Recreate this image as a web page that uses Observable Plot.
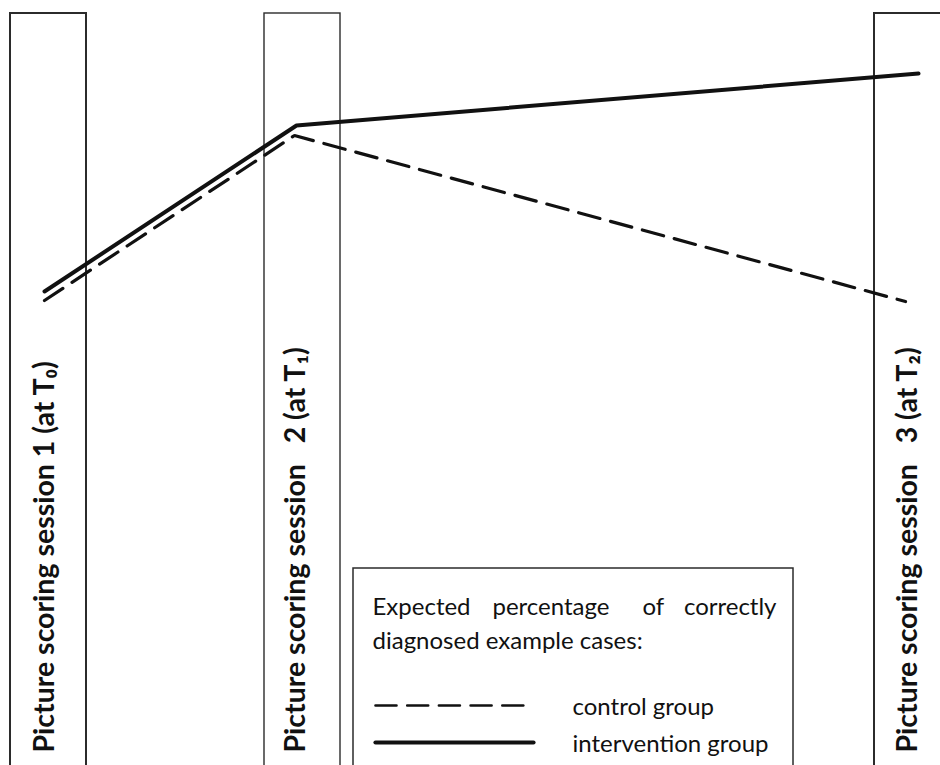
<!DOCTYPE html>
<html>
<head>
<meta charset="utf-8">
<script src="https://cdn.jsdelivr.net/npm/d3@7"></script>
<script src="https://cdn.jsdelivr.net/npm/@observablehq/plot@0.6"></script>
<style>
  html, body { margin: 0; padding: 0; background: #fff; overflow: hidden; }
  #chart svg { display: block; }
</style>
</head>
<body>
<div id="chart"></div>
<script>
// ---- Data (schematic; units are the drawing's own coordinate frame) ----
const sessionLabels = [
  "Picture scoring session 1 (at T\u2080)",
  "Picture scoring session\u00a0\u00a0\u00a02 (at T\u2081)",
  "Picture scoring session\u00a0\u00a0\u00a03 (at T\u2082)"
];
const sessionLeft  = [10, 264, 874];
const sessionRight = [86, 340, 962];
const sessionTop   = [13, 13, 13];
const sessionWidth = [2, 1.4, 2];
const labelBaseX   = [53, 304, 916];

const groups = ["control group", "intervention group"];
const controlX      = [44, 294, 905];
const controlY      = [300, 135, 301];
const interventionX = [44, 296, 918];
const interventionY = [291, 125, 73];

const legendTitleStart = ["Expected", "percentage", "of"];
const legendTitleStartX = [372, 492, 642];
const legendTitleEnd = ["correctly"];
const legendTitleEndX = [776];
const legendTitleLine2 = "diagnosed example cases:";
const legendBox = {x1: 353, x2: 793, y1: 568, y2: 790};
const legendSampleX = [[375, 523], [375, 533]];
const legendSampleY = [705, 742];
const legendLabelX = 572;

// ---- Build tables ----
const boxes = sessionLabels.map((label, i) => ({
  label, x1: sessionLeft[i], x2: sessionRight[i], y1: sessionTop[i], y2: 790,
  sw: sessionWidth[i], lx: labelBaseX[i]
}));
const lineData = [
  ...controlX.map((x, i) => ({group: groups[0], x, y: controlY[i]})),
  ...interventionX.map((x, i) => ({group: groups[1], x, y: interventionY[i]}))
];
const legendSamples = groups.map((g, i) => [
  {group: g, x: legendSampleX[i][0], y: legendSampleY[i]},
  {group: g, x: legendSampleX[i][1], y: legendSampleY[i]}
]);

const ink = "#111";
const font = "Lato, 'Open Sans', sans-serif";
const legendFont = 24;

const plot = Plot.plot({
  width: 940,
  height: 765,
  margin: 0,
  x: {domain: [0, 940], range: [0, 940], axis: null},
  y: {domain: [0, 765], range: [0, 765], axis: null},
  style: {background: "#fff", overflow: "hidden"},
  marks: [
    // session boxes
    Plot.rect(boxes, {x1: "x1", x2: "x2", y1: "y1", y2: "y2", fill: "none", stroke: "#2b2b2b", strokeWidth: "sw", clip: true}),
    // session labels (vertical)
    Plot.text(boxes, {x: "lx", y: 752, text: "label", rotate: -90, textAnchor: "start", lineAnchor: "bottom",
      fontFamily: font, fontWeight: "bold", fontSize: 28.5, fill: ink}),
    // expected lines
    Plot.line(lineData.filter(d => d.group === groups[0]), {x: "x", y: "y", stroke: ink, strokeWidth: 3.2, strokeDasharray: "22,11", strokeLinejoin: "miter"}),
    Plot.line(lineData.filter(d => d.group === groups[1]), {x: "x", y: "y", stroke: ink, strokeWidth: 4, strokeLinejoin: "miter"}),
    // legend box
    Plot.rect([legendBox], {x1: "x1", x2: "x2", y1: "y1", y2: "y2", fill: "#fff", stroke: "#2b2b2b", strokeWidth: 1.5, clip: true}),
    Plot.text(legendTitleStart, {x: (d, i) => legendTitleStartX[i], y: 614, text: d => d, textAnchor: "start", lineAnchor: "bottom", fontFamily: font, fontSize: legendFont, fill: ink}),
    Plot.text(legendTitleEnd, {x: (d, i) => legendTitleEndX[i], y: 614, text: d => d, textAnchor: "end", lineAnchor: "bottom", fontFamily: font, fontSize: legendFont, fill: ink}),
    Plot.text([legendTitleLine2], {x: 372, y: 648, text: d => d, textAnchor: "start", lineAnchor: "bottom", fontFamily: font, fontSize: legendFont, fill: ink}),
    Plot.line(legendSamples[0], {x: "x", y: "y", stroke: ink, strokeWidth: 2.6, strokeDasharray: "21,10.7"}),
    Plot.line(legendSamples[1], {x: "x", y: "y", stroke: ink, strokeWidth: 4.2}),
    Plot.text(groups, {x: legendLabelX, y: (d, i) => legendSampleY[i] + 9, text: d => d, textAnchor: "start", lineAnchor: "bottom", fontFamily: font, fontSize: legendFont, fill: ink})
  ]
});
document.getElementById("chart").appendChild(plot);
</script>
</body>
</html>
